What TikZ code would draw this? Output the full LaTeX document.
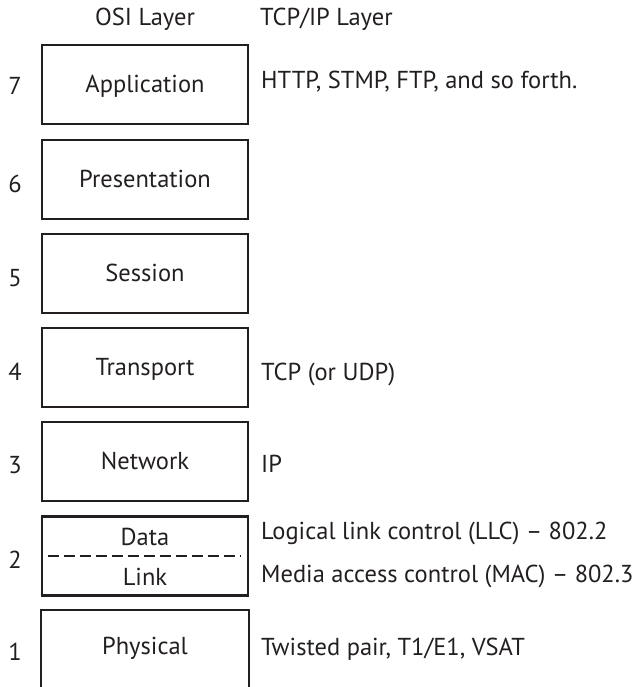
\documentclass[tikz,border=0pt]{standalone}
\usepackage{fontspec}
\setmainfont{PT Sans}
\usetikzlibrary{positioning}
\definecolor{ink}{RGB}{35,31,32}

\begin{document}
\begin{tikzpicture}[x=1pt,y=-1pt,
    font=\fontsize{24.5}{29}\selectfont,
    layer/.style={draw=ink, line width=2.2pt, minimum width=206pt, minimum height=79pt,
      inner sep=0pt, text height=16pt, text depth=0pt, text=ink},
    num/.style={anchor=base, text=ink, inner sep=0pt},
    proto/.style={anchor=base west, text=ink, inner sep=0pt}]
  \useasboundingbox (0,0) rectangle (642,687);
  % column headings
  \node[num] (osi) at (145,26) {OSI Layer};
  \node[proto] (tcpip) at (260,26) {TCP/IP Layer};
  % OSI stack
  \node[layer] (app) at (145,84.5) {Application};
  \node[layer] (pres) at (145,179.5) {Presentation};
  \node[layer] (sess) at (145,273.5) {Session};
  \node[layer] (trans) at (145,367.5) {Transport};
  \node[layer] (net) at (145,461.5) {Network};
  \node[layer] (dl) at (145,556) {};
  \draw[ink, line width=1.8pt, dash pattern=on 11pt off 5pt]
    ([xshift=7pt]dl.west) -- ([xshift=-8pt]dl.east);
  \node[num] (data) at (145,545) {Data};
  \node[num] (link) at (145,585) {Link};
  % physical box runs off the bottom edge
  \node[layer, draw=none, minimum height=70pt] (phys) at (145,646) {Physical};
  \draw[ink, line width=2.2pt] ([yshift=-90pt]phys.north west) -- (phys.north west)
    -- (phys.north east) -- ([yshift=-90pt]phys.north east);
  % layer numbers
  \foreach \n/\y in {7/95,6/192,5/286,4/380,3/473,2/568,1/660}
    \node[num] (n\n) at (15,\y) {\n};
  % TCP/IP counterparts
  \node[proto] (http) at (261,89) {HTTP, STMP, FTP, and so forth.};
  \node[proto] (tcp) at (261,380) {TCP (or UDP)};
  \node[proto] (ip) at (261,472) {IP};
  \node[proto] (llc) at (261,539) {Logical link control (LLC) – 802.2};
  \node[proto] (mac) at (261,582) {Media access control (MAC) – 802.3};
  \node[proto] (twist) at (261,655) {Twisted pair, T1/E1, VSAT};
\end{tikzpicture}
\end{document}
